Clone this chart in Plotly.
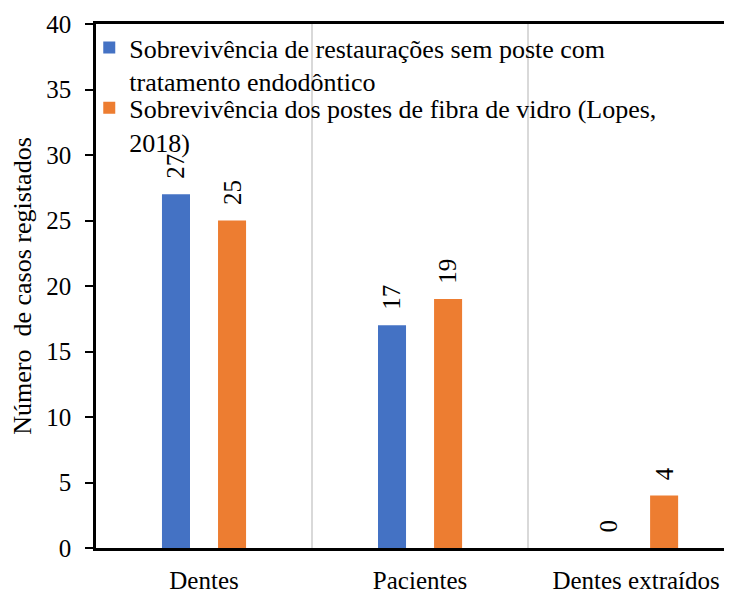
import plotly.graph_objects as go

categories = ["Dentes", "Pacientes", "Dentes extraídos"]
series_names = [
    "Sobrevivência de restaurações sem poste com<br>tratamento endodôntico",
    "Sobrevivência dos postes de fibra de vidro (Lopes,<br>2018)",
]
series_values = [
    [27, 17, 0],
    [25, 19, 4],
]
colors = ["#4472C4", "#ED7D31"]
y_ticks = [0, 5, 10, 15, 20, 25, 30, 35, 40]

FONT = "Liberation Serif"

fig = go.Figure()
shifts = [-28, 28]
legend_ids = ["legend", "legend2"]
for name, vals, col, sh, lg in zip(series_names, series_values, colors, shifts, legend_ids):
    fig.add_trace(go.Bar(x=categories, y=vals, name=name, marker_color=col,
                         marker_line_width=0, legend=lg))
    for c, v in zip(categories, vals):
        fig.add_annotation(x=c, y=v, text=str(v), showarrow=False, textangle=-90,
                           xshift=sh, yshift=13, yanchor="bottom", xanchor="center",
                           font=dict(family=FONT, size=25, color="black"))

legend_style = dict(xanchor="left", yanchor="top", valign="top",
                    bgcolor="rgba(0,0,0,0)", font=dict(family=FONT, size=26, color="black"))
fig.update_layout(
    width=724, height=587,
    margin=dict(l=88, r=0, t=16, b=47),
    paper_bgcolor="white", plot_bgcolor="white",
    bargap=0.481, bargroupgap=0.5,
    font=dict(family=FONT, size=25, color="black"),
    showlegend=True,
    legend=dict(x=-0.0106, y=1.0, **legend_style),
    legend2=dict(x=-0.0106, y=0.885, **legend_style),
)
fig.update_xaxes(
    type="category", range=[-0.5, 2.444], tickson="boundaries",
    showgrid=True, gridcolor="#d9d9d9", gridwidth=1.5,
    ticks="", showline=True, linecolor="black", linewidth=2.5, mirror=True,
    tickfont=dict(family=FONT, size=25, color="black"), ticklabelstandoff=8,
)
fig.update_yaxes(
    range=[0, 40], tickvals=y_ticks, showgrid=False, zeroline=False,
    ticks="outside", ticklen=8, tickwidth=1.5, tickcolor="black",
    showline=True, linecolor="black", linewidth=2.5,
    tickfont=dict(family=FONT, size=25, color="black"), ticklabelstandoff=9,
    title=dict(text="Número  de casos registados", font=dict(family=FONT, size=26, color="black"), standoff=8),
)
fig.write_html("out.html")
